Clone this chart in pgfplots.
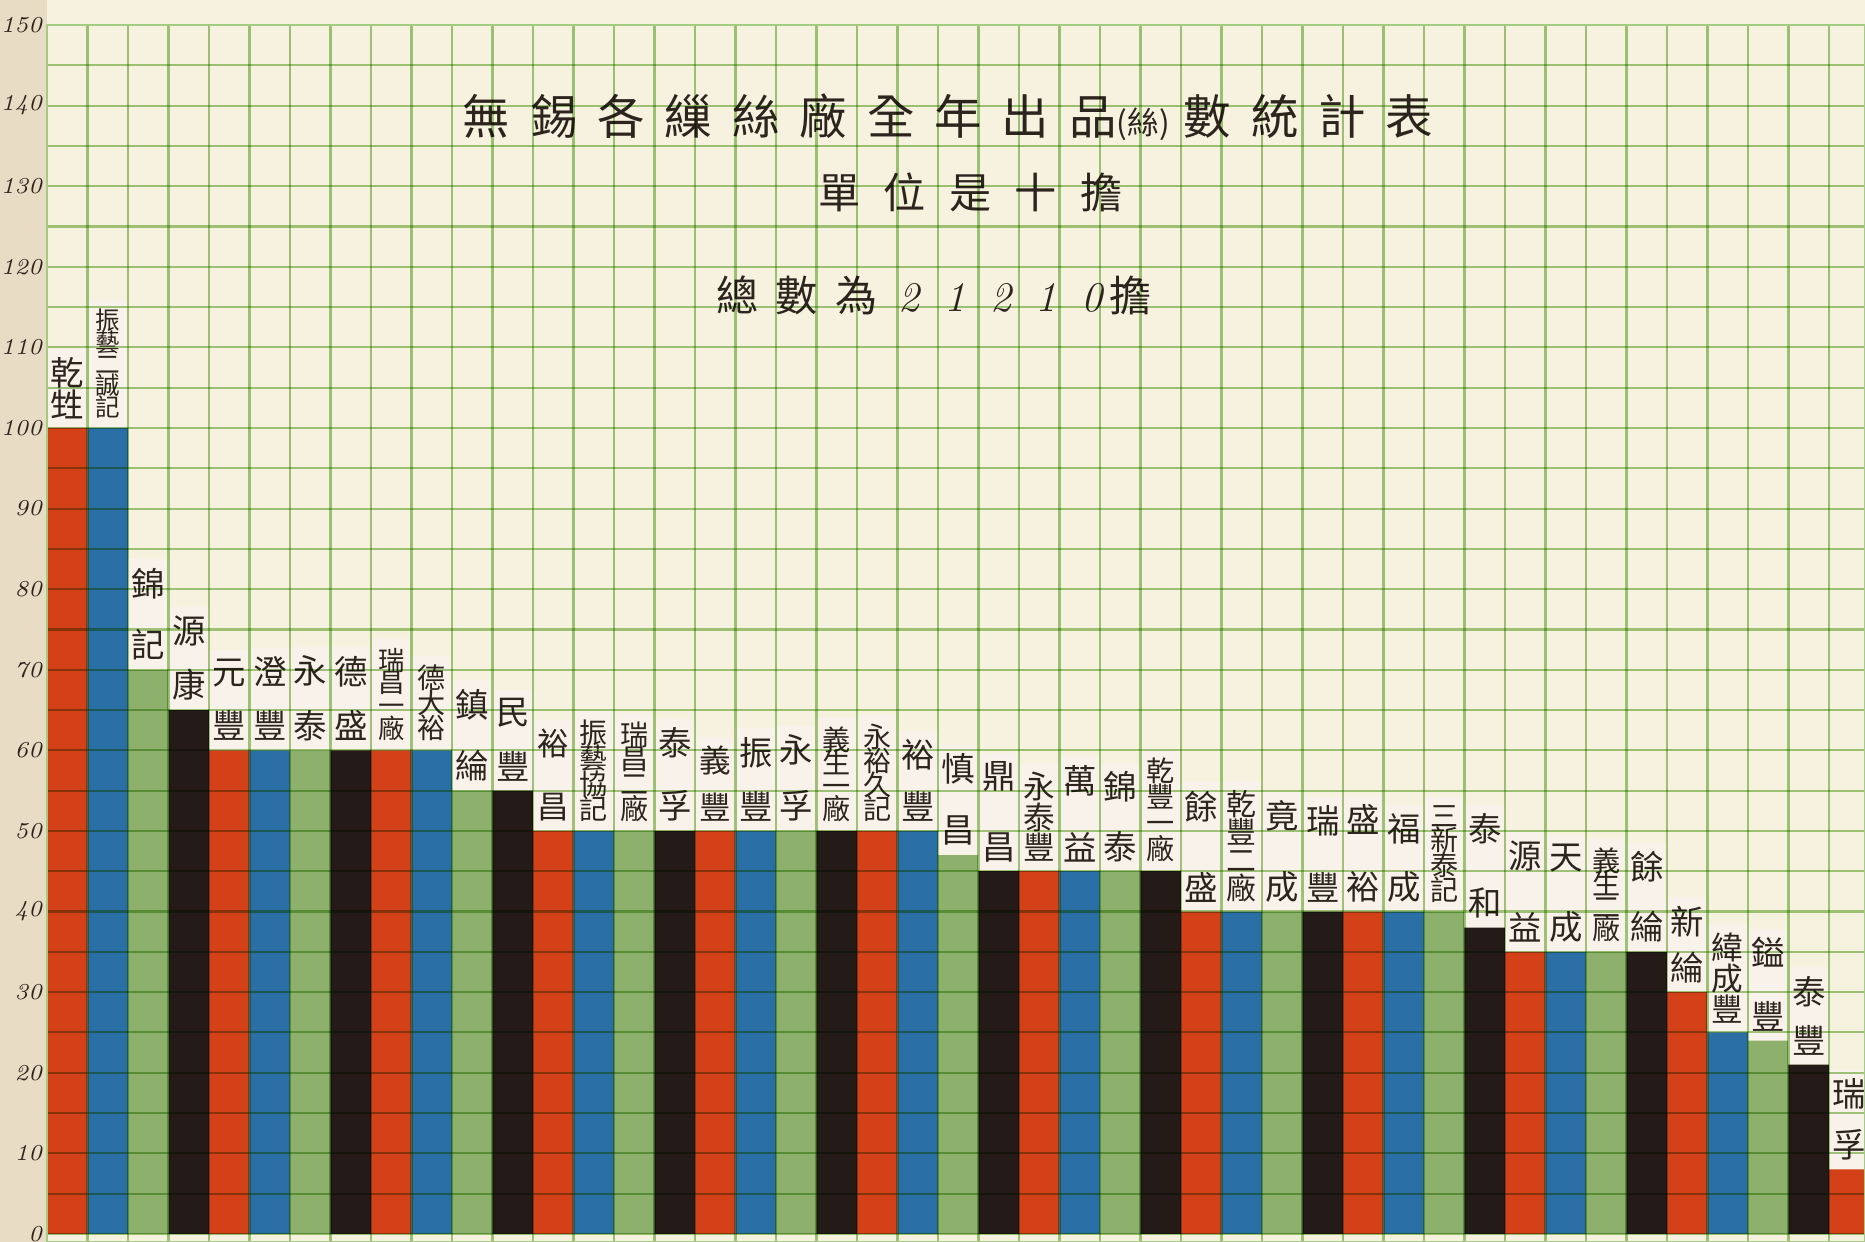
\documentclass[border=0pt]{standalone}
\usepackage{fontspec}
\usepackage{pgfplots}
\pgfplotsset{compat=1.18}
\newfontfamily\cjk{Noto Sans CJK TC}
\definecolor{paper}{RGB}{247,241,224}
\definecolor{marginc}{RGB}{232,220,196}
\definecolor{gridgreen}{RGB}{162,204,130}
\definecolor{labbg}{RGB}{251,243,240}
\definecolor{barred}{RGB}{212,64,24}
\definecolor{barblue}{RGB}{42,110,166}
\definecolor{bargreen}{RGB}{141,176,108}
\definecolor{barblack}{RGB}{36,27,24}
\definecolor{ink}{RGB}{45,36,30}
\tikzset{lab/.style={anchor=south, fill=labbg, fill opacity=0.75, text opacity=1, minimum width=0.405cm, inner xsep=0pt, inner ysep=2.5pt, align=center, text=ink}}
\newcommand\lab[5]{\node[lab, font={\cjk\fontsize{#3}{#4}\selectfont\lineskiplimit=-100pt}] at (axis cs:#1,#2) {#5};}
\begin{document}
\begin{tikzpicture}
\fill[paper] (-0.47cm,0cm) rectangle (18.18cm,12.42cm);
\fill[marginc] (-0.47cm,0cm) rectangle (0cm,12.42cm);
\begin{axis}[
  at={(0cm,0cm)}, anchor=south west,
  scale only axis, width=18.18cm, height=12.17cm,
  xmin=-0.5, xmax=44.39, ymin=-1, ymax=150,
  set layers=axis on top,
  axis background/.style={fill=paper},
  axis line style={draw=gridgreen, line width=0.6pt},
  xtick={-0.5,0.5,...,43.5}, xmajorticks=false,
  ytick={0,10,...,150}, minor ytick={5,15,...,145},
  grid=both,
  major grid style={draw=gridgreen, line width=0.6pt, blend mode=multiply},
  minor grid style={draw=gridgreen, line width=0.6pt, blend mode=multiply},
  major tick length=0pt, minor tick length=0pt,
  /pgf/number format/assume math mode=true,
  yticklabel style={font=\itshape\fontsize{6.5}{7}\selectfont, text=ink, inner xsep=1.2pt},
]
% red series
\addplot[ybar, bar width=1, bar shift=0pt, fill=barred, draw=none] coordinates {(0,100) (4,60) (8,60) (12,50) (16,50) (20,50) (24,45) (28,40) (32,40) (36,35) (40,30) (44,8)};
% blue series
\addplot[ybar, bar width=1, bar shift=0pt, fill=barblue, draw=none] coordinates {(1,100) (5,60) (9,60) (13,50) (17,50) (21,50) (25,45) (29,40) (33,40) (37,35) (41,25)};
% green series
\addplot[ybar, bar width=1, bar shift=0pt, fill=bargreen, draw=none] coordinates {(2,70) (6,60) (10,55) (14,50) (18,50) (22,47) (26,45) (30,40) (34,40) (38,35) (42,24)};
% black series
\addplot[ybar, bar width=1, bar shift=0pt, fill=barblack, draw=none] coordinates {(3,65) (7,60) (11,55) (15,50) (19,50) (23,45) (27,45) (31,40) (35,38) (39,35) (43,21)};

\lab{0}{100}{9.5}{9}{乾\\甡}
\lab{1}{100}{7}{6.2}{振\\藝\\二\\誠\\記}
\lab{2}{70}{9.5}{17.5}{錦\\記}
\lab{3}{65}{9.5}{15.5}{源\\康}
\lab{4}{60}{9.5}{15.5}{元\\豐}
\lab{5}{60}{9.5}{15.5}{澄\\豐}
\lab{6}{60}{9.5}{15.5}{永\\泰}
\lab{7}{60}{9.5}{15.5}{德\\盛}
\lab{8}{60}{7.5}{6.5}{瑞\\昌\\一\\廠}
\lab{9}{60}{8}{7.2}{德\\大\\裕}
\lab{10}{55}{9.5}{17.5}{鎮\\綸}
\lab{11}{55}{9.5}{15.5}{民\\豐}
\lab{12}{50}{9}{18}{裕\\昌}
\lab{13}{50}{8}{7.2}{振\\藝\\協\\記}
\lab{14}{50}{8}{7}{瑞\\昌\\二\\廠}
\lab{15}{50}{9.5}{18}{泰\\孚}
\lab{16}{50}{9}{13.5}{義\\豐}
\lab{17}{50}{9.5}{15.5}{振\\豐}
\lab{18}{50}{9.5}{16}{永\\孚}
\lab{19}{50}{8}{6.5}{義\\生\\一\\廠}
\lab{20}{50}{8}{6.8}{永\\裕\\久\\記}
\lab{21}{50}{9.5}{14.8}{裕\\豐}
\lab{22}{47}{9.5}{17.4}{慎\\昌}
\lab{23}{45}{9.5}{20}{鼎\\昌}
\lab{24}{45}{9}{8.8}{永\\泰\\豐}
\lab{25}{45}{9.5}{19}{萬\\益}
\lab{26}{45}{9.5}{17}{錦\\泰}
\lab{27}{45}{8}{7.4}{乾\\豐\\一\\廠}
\lab{28}{40}{9.5}{23}{餘\\盛}
\lab{29}{40}{8.5}{8}{乾\\豐\\二\\廠}
\lab{30}{40}{9.5}{20}{竟\\成}
\lab{31}{40}{9.5}{19}{瑞\\豐}
\lab{32}{40}{9.5}{19}{盛\\裕}
\lab{33}{40}{9.5}{16.5}{福\\成}
\lab{34}{40}{8}{7}{三\\新\\泰\\記}
\lab{35}{38}{9.5}{21}{泰\\和}
\lab{36}{35}{9.5}{20.5}{源\\益}
\lab{37}{35}{9.5}{20}{天\\成}
\lab{38}{35}{8}{6.5}{義\\生\\二\\廠}
\lab{39}{35}{9.5}{17}{餘\\綸}
\lab{40}{30}{9.5}{13}{新\\綸}
\lab{41}{25}{9}{8.8}{緯\\成\\豐}
\lab{42}{24}{9.5}{18}{鎰\\豐}
\lab{43}{21}{9.5}{14}{泰\\豐}
\lab{44}{8}{9.5}{14.5}{瑞\\孚}

\node[text=ink, font={\cjk\fontsize{13.5}{14}\selectfont\addfontfeature{LetterSpace=42}}] at (axis cs:21.75,138.6) {無錫各繅絲廠全年出品{\addfontfeature{LetterSpace=0}\fontsize{9}{9}\selectfont(絲)}\hspace{4pt}數統計表};
\node[text=ink, font={\cjk\fontsize{12}{12}\selectfont\addfontfeature{LetterSpace=55}}] at (axis cs:22.3,129.2) {單位是十擔};
\node[text=ink, font={\cjk\fontsize{12}{12}\selectfont}] at (axis cs:21.4,116.5) {總\hspace{5pt}數\hspace{5pt}為\hspace{6pt}{\rmfamily\itshape\fontsize{12}{12}\selectfont 2\hspace{7pt}1\hspace{7pt}2\hspace{7pt}1\hspace{7pt}0}\hspace{2pt}擔};
\end{axis}
\pgfresetboundingbox
\path[use as bounding box] (-0.47cm,0cm) rectangle (18.18cm,12.42cm);
\end{tikzpicture}
\end{document}
